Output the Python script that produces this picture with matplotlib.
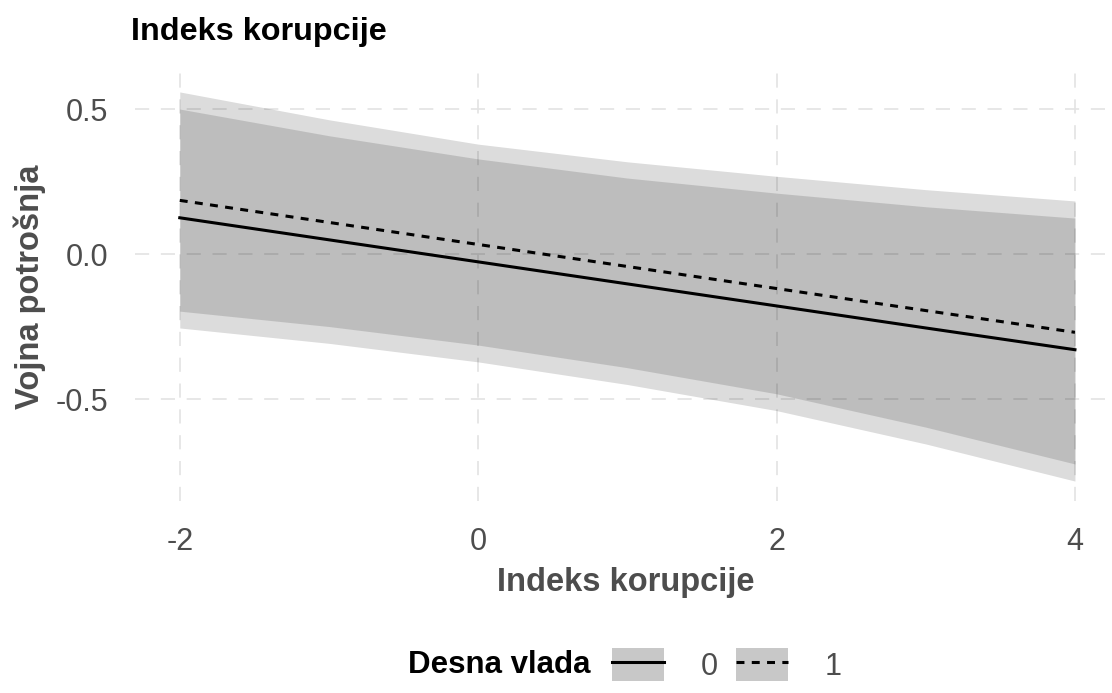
import numpy as np
import matplotlib.pyplot as plt
from matplotlib.patches import Patch
from matplotlib.lines import Line2D

plt.rcParams['font.family'] = ['Liberation Sans', 'DejaVu Sans']

# predicted values
x = [-2, -1, 0, 1, 2, 3, 4]
fit0 = [0.125, 0.049, -0.027, -0.103, -0.179, -0.255, -0.330]
low0 = [-0.255, -0.308, -0.372, -0.450, -0.540, -0.655, -0.783]
high0 = [0.500, 0.408, 0.328, 0.262, 0.210, 0.163, 0.124]
fit1 = [0.185, 0.109, 0.033, -0.043, -0.119, -0.195, -0.270]
low1 = [-0.197, -0.250, -0.314, -0.392, -0.482, -0.597, -0.724]
high1 = [0.559, 0.463, 0.379, 0.318, 0.268, 0.222, 0.183]
groups = ['0', '1']
xticks = [-2, 0, 2, 4]
yticks = [-0.5, 0.0, 0.5]

W, H = 1112, 693
fig = plt.figure(figsize=(W / 100, H / 100), dpi=100)
ax = fig.add_axes([135 / W, (H - 500.5) / H, (W - 135) / W, (500.5 - 72.5) / H])

gridc = '#e3e3e3'
for xt in xticks:
    ax.axvline(xt, color=gridc, lw=1.2, ls=(0, (8.5, 7)), zorder=0)
for yt in yticks:
    ax.axhline(yt, color=gridc, lw=1.2, ls=(0, (8.5, 7)), zorder=0)

ax.fill_between(x, low0, high0, color='black', alpha=0.137, lw=0, zorder=1)
ax.fill_between(x, low1, high1, color='black', alpha=0.137, lw=0, zorder=1)
ax.plot(x, fit0, color='black', lw=2.2, ls='-', zorder=3)
ax.plot(x, fit1, color='black', lw=2.2, ls=(0, (2.6, 2.4)), zorder=3)

ax.set_xlim(-2.3, 4 + (W - 1075) / 149)
ax.set_ylim(-0.85, 0.626)
ax.set_xticks(xticks)
ax.set_xticklabels(['-2', '0', '2', '4'])
ax.set_yticks(yticks)
ax.set_yticklabels(['-0.5', '0.0', '0.5'])
ax.tick_params(axis='both', length=0, labelsize=22, labelcolor='#4d4d4d')
ax.tick_params(axis='x', pad=19)
ax.tick_params(axis='y', pad=19)
for s in ax.spines.values():
    s.set_visible(False)
ax.set_facecolor('none')

fig.text(131 / W, 1 - 32 / H, 'Indeks korupcije', fontsize=23.3, fontweight='bold',
         ha='left', va='center', color='black')
fig.text(626 / W, 1 - 583 / H, 'Indeks korupcije', fontsize=23.5, fontweight='bold',
         ha='center', va='center', color='#4d4d4d')
fig.text(30 / W, 1 - 287 / H, 'Vojna potrošnja', fontsize=23.5, fontweight='bold',
         ha='center', va='center', rotation=90, color='#4d4d4d')

# legend
fig.text(590 / W, 1 - 665 / H, 'Desna vlada', fontsize=22.5, fontweight='bold',
         ha='right', va='center', color='black')
handles = [
    (Patch(facecolor='#c8c8c8', edgecolor='none'), Line2D([], [], color='black', lw=2.2, ls='-')),
    (Patch(facecolor='#c8c8c8', edgecolor='none'), Line2D([], [], color='black', lw=2.2, ls=(0, (2.6, 2.4)))),
]
leg = fig.legend(handles, groups, loc='center left', bbox_to_anchor=(612 / W, 1 - 665 / H),
                 ncol=2, frameon=False, fontsize=22, handlelength=1.7, handleheight=1.3,
                 handletextpad=1.2, columnspacing=0.6, borderaxespad=0, borderpad=0)
for t in leg.get_texts():
    t.set_color('#4d4d4d')

fig.savefig('out.png', dpi=100, facecolor='white')
